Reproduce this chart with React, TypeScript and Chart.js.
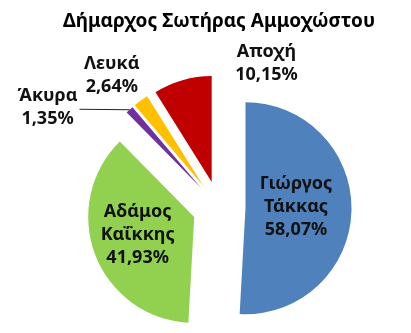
import React, { useEffect, useRef } from 'react';
import { Chart, registerables } from 'chart.js';

Chart.register(...registerables);

// ---- data ----
const chartTitle = 'Δήμαρχος Σωτήρας Αμμοχώστου';
const categories = ['Γιώργος Τάκκας', 'Αδάμος Καΐκκης', 'Άκυρα', 'Λευκά', 'Αποχή'];
const categoryLines = [['Γιώργος', 'Τάκκας'], ['Αδάμος', 'Καΐκκης'], ['Άκυρα'], ['Λευκά'], ['Αποχή']];
const values = [58.07, 41.93, 1.35, 2.64, 10.15];
const colors = ['#4F81BD', '#92D050', '#7030A0', '#FFC000', '#C00000'];

// ---- layout constants ----
const EXPLODE = 26.5;
const RADIUS = 106;
// label anchor: fraction of radius along slice middle, plus nudge
const labelRadiusFactor = [0.5, 0.5, 1, 1, 1];
const labelNudge: [number, number][] = [[-2.5, -3], [-7, -1], [-82, -2.5], [-29, -25], [84, -17]];
const leader = [false, false, true, false, false];
const LINE_H = 23;
const LABEL_FONT = 'bold 18px "Noto Sans"';

const fmt = (v: number) => v.toFixed(2).replace('.', ',') + '%';

const explodePlugin = {
  id: 'explodeSlices',
  beforeDatasetsDraw(chart: any) {
    const meta = chart.getDatasetMeta(0);
    const ca = chart.chartArea;
    const cx = (ca.left + ca.right) / 2;
    const cy = (ca.top + ca.bottom) / 2;
    meta.data.forEach((arc: any) => {
      const mid = (arc.startAngle + arc.endAngle) / 2;
      arc.x = cx + Math.cos(mid) * EXPLODE;
      arc.y = cy + Math.sin(mid) * EXPLODE;
    });
  },
};

const labelPlugin = {
  id: 'sliceLabels',
  afterDatasetsDraw(chart: any) {
    const ctx = chart.ctx;
    const meta = chart.getDatasetMeta(0);
    ctx.save();
    ctx.font = LABEL_FONT;
    ctx.fillStyle = '#111';
    ctx.textAlign = 'center';
    ctx.textBaseline = 'middle';
    meta.data.forEach((arc: any, i: number) => {
      const mid = (arc.startAngle + arc.endAngle) / 2;
      const r = arc.outerRadius * labelRadiusFactor[i];
      const ox = arc.x + Math.cos(mid) * arc.outerRadius;
      const oy = arc.y + Math.sin(mid) * arc.outerRadius;
      const ax = arc.x + Math.cos(mid) * r + labelNudge[i][0];
      const ay = arc.y + Math.sin(mid) * r + labelNudge[i][1];
      const lines = [...categoryLines[i], fmt(values[i])];
      const top = ay - ((lines.length - 1) * LINE_H) / 2;
      lines.forEach((t, k) => ctx.fillText(t, ax, top + k * LINE_H));
      if (leader[i]) {
        const w = ctx.measureText(lines[0]).width;
        ctx.beginPath();
        ctx.strokeStyle = '#222';
        ctx.lineWidth = 1;
        ctx.moveTo(ax + w / 2 + 2, ay + 2);
        ctx.lineTo(ox, oy);
        ctx.stroke();
      }
    });
    ctx.restore();
  },
};

export default function App() {
  const ref = useRef<HTMLCanvasElement | null>(null);
  useEffect(() => {
    if (!ref.current) return;
    const chart = new Chart(ref.current, {
      type: 'pie',
      data: {
        labels: categories,
        datasets: [
          {
            data: values,
            backgroundColor: colors,
            borderWidth: 0,
            radius: RADIUS,
          } as any,
        ],
      },
      options: {
        responsive: false,
        animation: false,
        events: [],
        layout: { padding: { left: 27, right: 0, top: 0, bottom: 0 } },
        plugins: {
          legend: { display: false },
          tooltip: { enabled: false },
          title: {
            display: true,
            text: chartTitle,
            color: '#000',
            font: { family: 'Noto Sans', size: 19, weight: 'bold' },
            padding: { top: 10.6, bottom: 48.6 },
          },
        },
      },
      plugins: [explodePlugin, labelPlugin],
    });
    return () => chart.destroy();
  }, []);
  return (
    <div style={{ position: 'fixed', left: 0, top: 0, width: 411, height: 333, background: '#fff' }}>
      <canvas ref={ref} width={411} height={333} />
    </div>
  );
}
